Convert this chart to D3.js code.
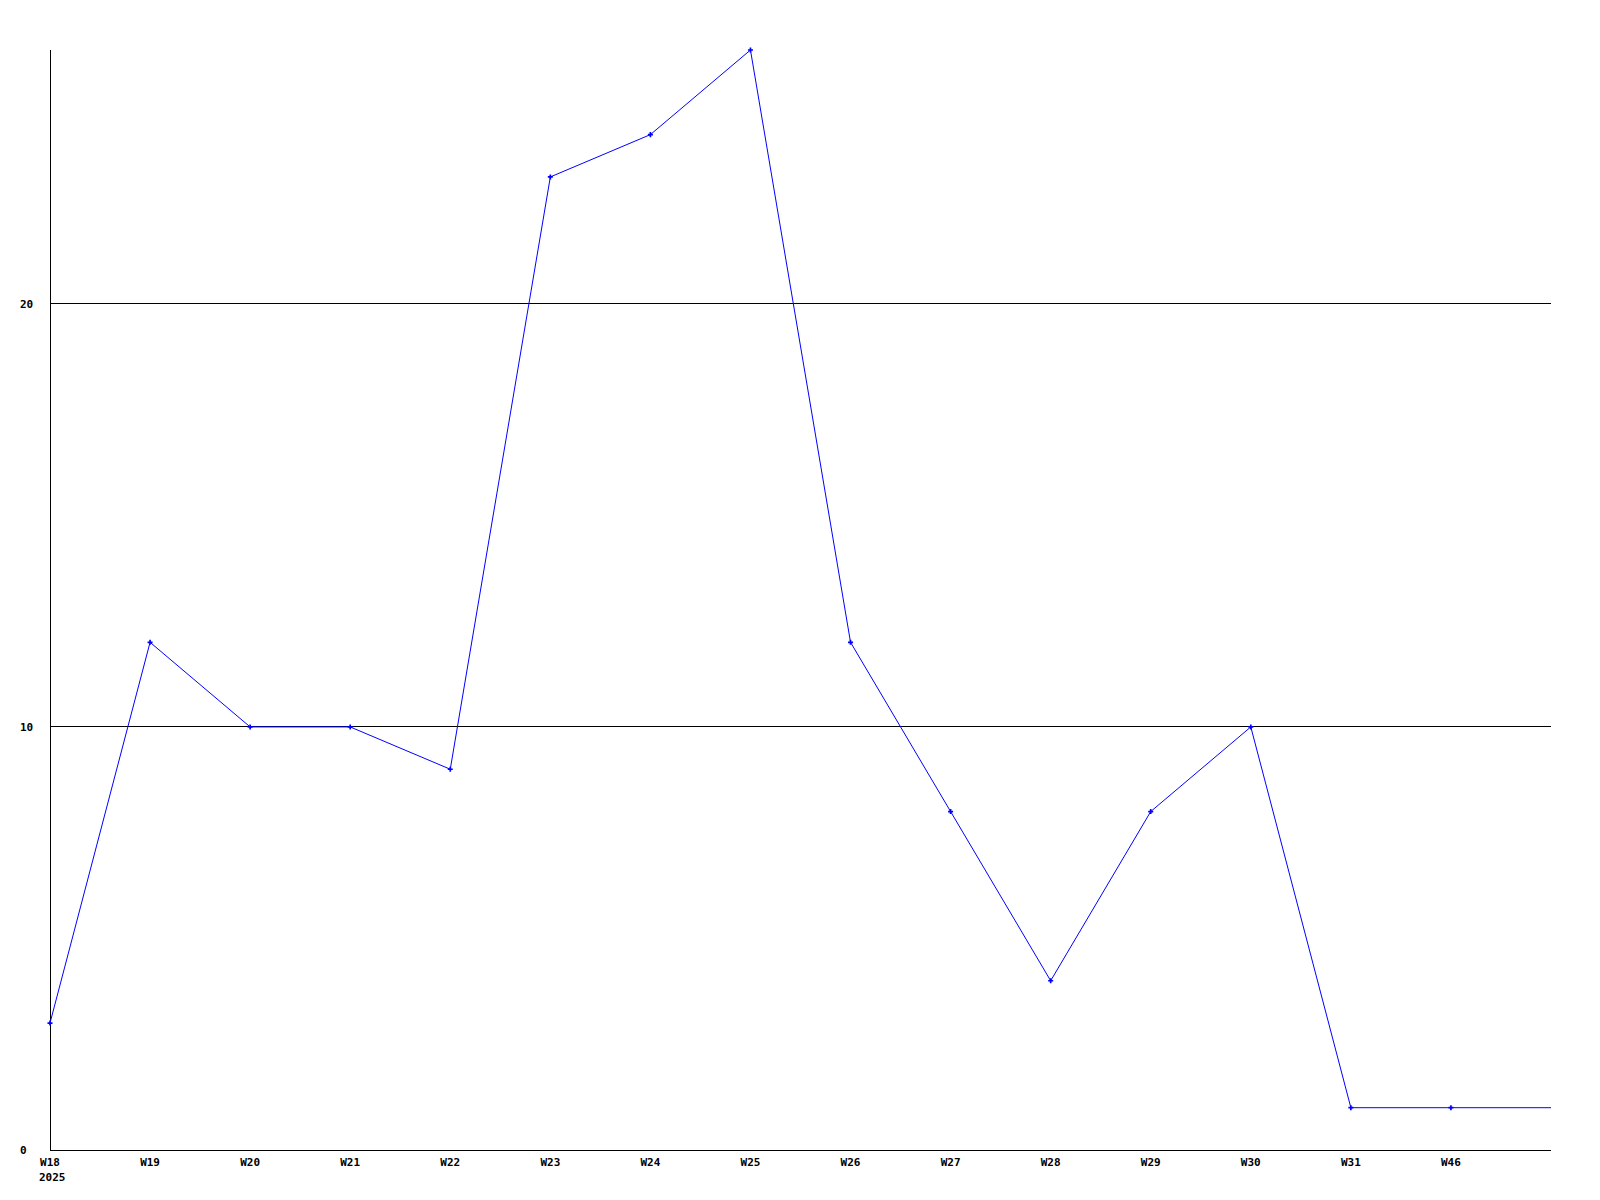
<!DOCTYPE html>
<html>
<head>
<meta charset="utf-8">
<script src="https://cdn.jsdelivr.net/npm/d3@7"></script>
<style>
  body { margin: 0; background: #fff; }
  text { font-family: "DejaVu Sans Mono", monospace; font-weight: bold; font-size: 11px; fill: #000; }
</style>
</head>
<body>
<div id="chart1"></div>
<script>
// weekly counts
var weeks = ['W18', 'W19', 'W20', 'W21', 'W22', 'W23', 'W24', 'W25',
             'W26', 'W27', 'W28', 'W29', 'W30', 'W31', 'W46'];
var counts = [3, 12, 10, 10, 9, 23, 24, 26, 12, 8, 4, 8, 10, 1, 1];
var yearLabel = '2025';
var yTicks = [0, 10, 20];
var yMax = 26;

var chart = {
    svgWidth: 1600,
    svgHeight: 1200,
    margin: {"top": 50, "bottom": 50, "left": 50, "right": 49},
};

chart.svg = d3.select("#chart1").append("svg")
    .attr("width", chart.svgWidth)
    .attr("height", chart.svgHeight)

chart.yScale = d3.scaleLinear()
    .domain([0, yMax])
    .range([chart.svgHeight - chart.margin.bottom, chart.margin.top])

// one spare slot after the last week, the line runs out to it
chart.xScale = d3.scalePoint()
    .domain(weeks.concat(['_end']))
    .range([chart.margin.left, chart.svgWidth - chart.margin.right])

var svg = chart.svg;
var xScale = chart.xScale;
var yScale = chart.yScale;
var x0 = chart.margin.left, x1 = chart.svgWidth - chart.margin.right;

// gridlines
svg.selectAll('line.grid')
    .data(yTicks.filter(d => d > 0))
    .enter().append('line')
    .attr('class', 'grid')
    .attr('x1', x0).attr('x2', x1)
    .attr('y1', d => Math.floor(yScale(d)) + 0.5)
    .attr('y2', d => Math.floor(yScale(d)) + 0.5)
    .attr('stroke', '#000')
    .attr('stroke-width', 1)

// axes lines
svg.append('line')
    .attr('x1', x0 + 0.5).attr('x2', x0 + 0.5)
    .attr('y1', yScale(yMax)).attr('y2', yScale(0))
    .attr('stroke', '#000')
svg.append('line')
    .attr('x1', x0).attr('x2', x1)
    .attr('y1', Math.floor(yScale(0)) + 0.5).attr('y2', Math.floor(yScale(0)) + 0.5)
    .attr('stroke', '#000')

// y labels
svg.selectAll('text.ylab')
    .data(yTicks)
    .enter().append('text')
    .attr('class', 'ylab')
    .attr('x', 20)
    .attr('y', d => yScale(d) + 4)
    .text(d => d)

// x labels
svg.selectAll('text.xlab')
    .data(weeks)
    .enter().append('text')
    .attr('class', 'xlab')
    .attr('x', d => xScale(d))
    .attr('y', yScale(0) + 16)
    .attr('text-anchor', 'middle')
    .text(d => d)

svg.append('text')
    .attr('x', xScale(weeks[0]) - 11)
    .attr('y', yScale(0) + 31)
    .text(yearLabel)

// line
var pts = weeks.map((w, i) => [xScale(w), yScale(counts[i])]);
pts.push([xScale('_end'), yScale(counts[counts.length - 1])]);

svg.append('path')
    .attr('d', d3.line()(pts))
    .attr('fill', 'none')
    .attr('stroke', '#0000ff')
    .attr('stroke-width', 1)

svg.selectAll('path.dot')
    .data(weeks)
    .enter().append('path')
    .attr('class', 'dot')
    .attr('transform', (d, i) => 'translate(' + xScale(d) + ',' + yScale(counts[i]) + ')')
    .attr('d', d3.symbol().type(d3.symbolCross).size(14))
    .attr('fill', '#0000ff')
</script>
</body>
</html>
